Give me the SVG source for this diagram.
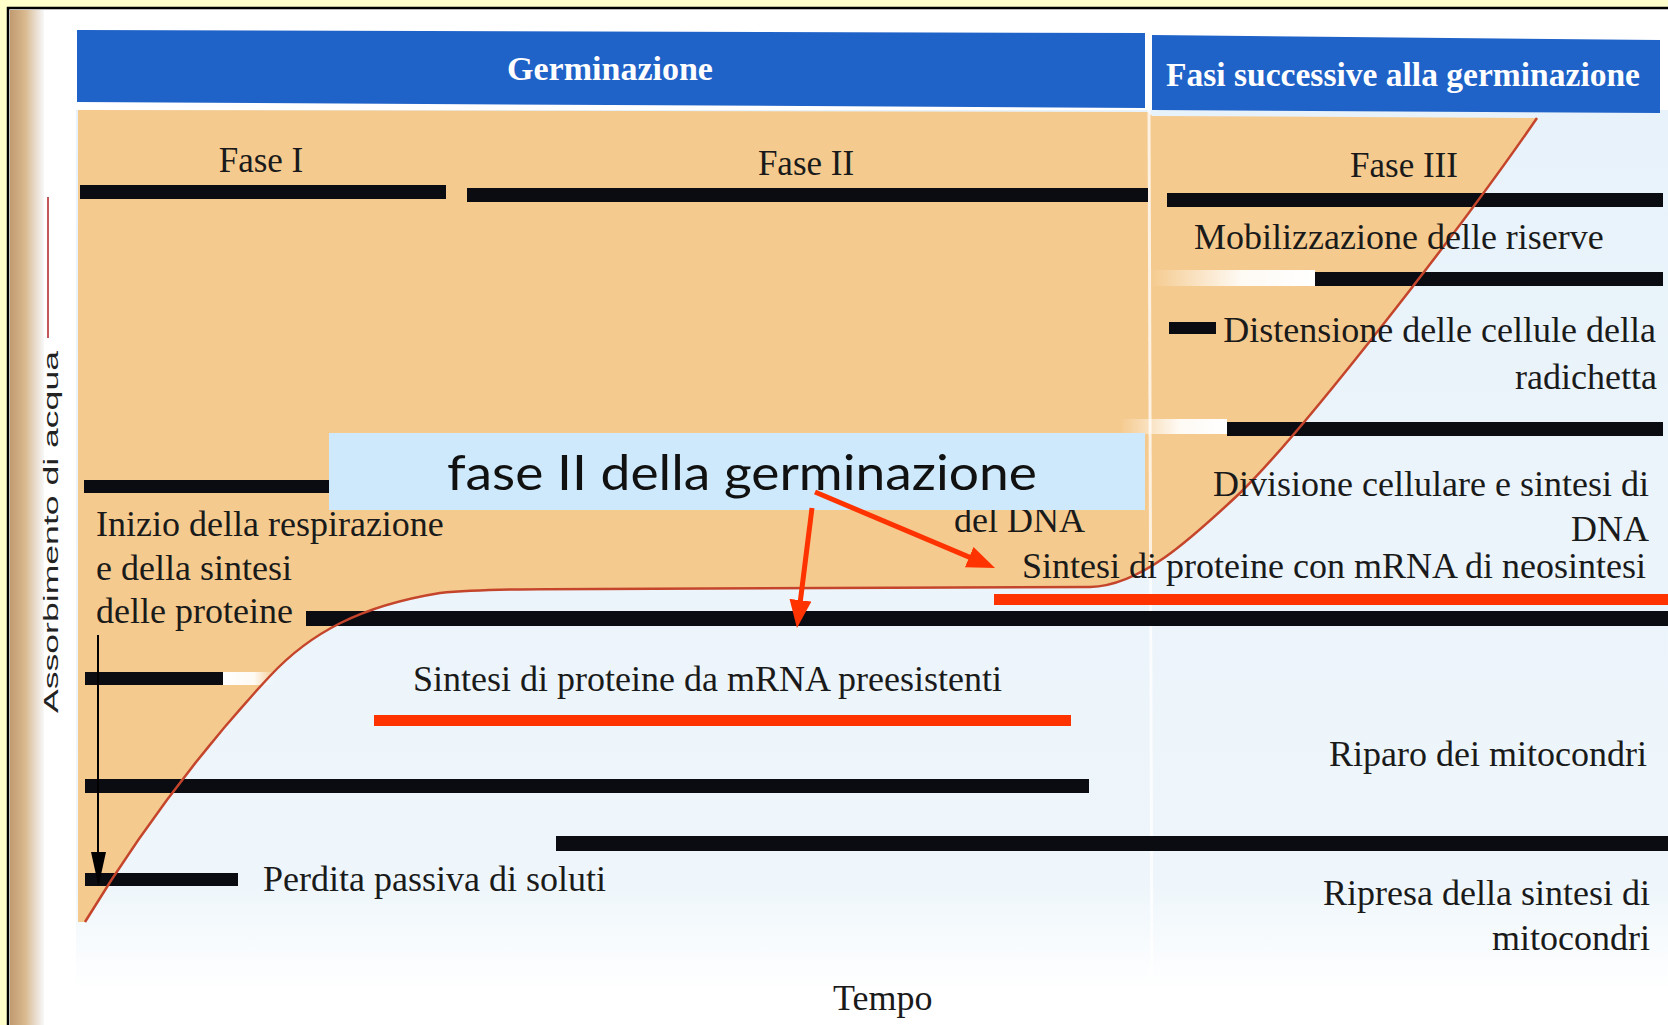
<svg xmlns="http://www.w3.org/2000/svg" width="1668" height="1025" viewBox="0 0 1668 1025">
<defs>
<style>
.t{font-family:"Liberation Serif","Times New Roman",serif;font-size:36px;fill:#1a1a1a}
.f{font-family:"Liberation Serif","Times New Roman",serif;font-size:35px;fill:#1a1a1a;text-anchor:middle}
.e{text-anchor:end}
.h{font-family:"Liberation Serif","Times New Roman",serif;font-weight:bold;fill:#ffffff;text-anchor:middle}
.bar{fill:#0b0b12}
.red{fill:#ff3300}
.arr{stroke:#ff3300;stroke-width:5;fill:none}
.hdr{fill:#1f62c8}
</style>
<linearGradient id="bg" x1="0" y1="0" x2="0" y2="1">
<stop offset="0" stop-color="#e8f2fa"/>
<stop offset="0.88" stop-color="#eef6fb"/>
<stop offset="1" stop-color="#ffffff"/>
</linearGradient>
<linearGradient id="edge" x1="0" y1="0" x2="1" y2="0">
<stop offset="0" stop-color="#c19a70"/>
<stop offset="0.45" stop-color="#d9b98e"/>
<stop offset="0.7" stop-color="#e6d6c2"/>
<stop offset="1" stop-color="#f7f8f9"/>
</linearGradient>
<linearGradient id="fadeR" x1="0" y1="0" x2="1" y2="0">
<stop offset="0" stop-color="#ffffff" stop-opacity="0"/>
<stop offset="0.55" stop-color="#ffffff" stop-opacity="0.9"/>
<stop offset="1" stop-color="#ffffff" stop-opacity="1"/>
</linearGradient>
<linearGradient id="fadeL" x1="0" y1="0" x2="1" y2="0">
<stop offset="0" stop-color="#ffffff" stop-opacity="1"/>
<stop offset="0.6" stop-color="#ffffff" stop-opacity="0.9"/>
<stop offset="1" stop-color="#ffffff" stop-opacity="0"/>
</linearGradient>
<marker id="ah" markerUnits="userSpaceOnUse" markerWidth="30" markerHeight="24" refX="18" refY="11" orient="auto">
<path d="M0,0 L28,11 L0,22 Z" fill="#ff3300"/>
</marker>
</defs>

<!-- page background -->
<rect width="1668" height="1025" fill="#ffffcc"/>
<rect x="9" y="9" width="1659" height="1016" fill="#ffffff"/>
<rect x="10" y="10" width="34" height="1015" fill="url(#edge)"/>
<rect x="76" y="110" width="1592" height="880" fill="url(#bg)"/>
<path d="M8,1025 V8 H1668" stroke="#000" stroke-width="2.5" fill="none"/>

<!-- tan area above curve -->
<path d="M78,110 L1148,112 L1152,116 L1544,118 L1537,118 C1460,230 1300,435 1240,493 C1190,540 1140,586 1090,587 L600,589 C540,589 480,589 440,593 C360,606 310,633 270,676 C215,735 150,815 85,922 L78,922 Z" fill="#f5ca8e"/>

<!-- header -->
<g id="header">
<polygon class="hdr" points="77,30 1145,33 1145,108 77,102"/>
<polygon class="hdr" points="1152,35 1660,40 1660,113 1152,110"/>
<text class="h" x="610" y="80" font-size="34">Germinazione</text>
<text class="h" x="1403" y="86" font-size="33.5" textLength="474" lengthAdjust="spacingAndGlyphs">Fasi successive alla germinazione</text>
</g>

<!-- divider -->
<line x1="1149" y1="110" x2="1152" y2="1000" stroke="#ffffff" stroke-width="3" opacity="0.75"/>

<!-- white smudges -->
<rect x="1150" y="270" width="165" height="16" fill="url(#fadeR)"/>
<rect x="1120" y="419" width="107" height="15" fill="url(#fadeR)"/>
<rect x="223" y="672" width="52" height="13" fill="url(#fadeL)"/>

<!-- phases -->
<g id="fase1">
<rect class="bar" x="80" y="185" width="366" height="14"/>
<text class="f" x="261" y="172">Fase I</text>
</g>
<g id="fase2">
<rect class="bar" x="467" y="188" width="681" height="14"/>
<text class="f" x="806" y="175">Fase II</text>
</g>
<g id="fase3">
<rect class="bar" x="1167" y="193" width="496" height="14"/>
<text class="f" x="1404" y="177">Fase III</text>
</g>

<!-- activity bars -->
<g id="mobilizzazione">
<rect class="bar" x="1315" y="272" width="348" height="14"/>
</g>
<g id="distensione">
<rect class="bar" x="1169" y="322" width="47" height="12"/>
</g>
<g id="divisione">
<rect class="bar" x="1227" y="422" width="436" height="14"/>
</g>
<g id="inizio">
<rect class="bar" x="84" y="480" width="260" height="13"/>
</g>
<g id="sintesi-preesistenti-bar">
<rect class="bar" x="306" y="611" width="1362" height="15"/>
</g>
<g id="bar-short">
<rect class="bar" x="85" y="672" width="138" height="13"/>
</g>
<g id="riparo">
<rect class="bar" x="85" y="779" width="1004" height="14"/>
</g>
<g id="ripresa">
<rect class="bar" x="556" y="836" width="1112" height="15"/>
</g>
<g id="perdita">
<rect class="bar" x="85" y="873" width="153" height="13"/>
</g>

<!-- water absorption curve -->
<path d="M85,922 C150,815 215,735 270,676 C310,633 360,606 440,593 C480,589 540,589 600,589 L1090,587 C1140,586 1190,540 1240,493 C1300,435 1460,230 1537,118" fill="none" stroke="#c4452b" stroke-width="2.5"/>

<!-- red highlight bars -->
<rect class="red" x="994" y="594" width="674" height="11"/>
<rect class="red" x="374" y="715" width="697" height="11"/>

<!-- labels -->
<text class="t" x="1194" y="249" font-size="35.6">Mobilizzazione delle riserve</text>
<text class="t e" x="1656" y="342">Distensione delle cellule della</text>
<text class="t e" x="1657" y="389">radichetta</text>
<text class="t e" x="1649" y="496">Divisione cellulare e sintesi di</text>
<text class="t e" x="1649" y="541">DNA</text>
<text class="t" x="954" y="532">del DNA</text>
<text class="t" x="1022" y="578" font-size="36.6">Sintesi di proteine con mRNA di neosintesi</text>
<text class="t" x="96" y="536">Inizio della respirazione</text>
<text class="t" x="96" y="580">e della sintesi</text>
<text class="t" x="96" y="623">delle proteine</text>
<text class="t" x="413" y="691" font-size="36.5">Sintesi di proteine da mRNA preesistenti</text>
<text class="t e" x="1647" y="766">Riparo dei mitocondri</text>
<text class="t" x="263" y="891">Perdita passiva di soluti</text>
<text class="t e" x="1650" y="905">Ripresa della sintesi di</text>
<text class="t e" x="1650" y="950">mitocondri</text>
<text class="t" x="833" y="1010" font-size="34">Tempo</text>

<!-- y axis label -->
<g id="yaxis">
<line x1="48" y1="197" x2="48" y2="338" stroke="#c2585a" stroke-width="2"/>
<text transform="translate(58,713) rotate(-90)" font-family="'Liberation Sans',Arial,sans-serif" font-size="21" fill="#222" textLength="362" lengthAdjust="spacingAndGlyphs">Assorbimento di acqua</text>
</g>

<!-- callout -->
<g id="callout">
<rect x="329" y="433" width="816" height="77" fill="#cde9fb"/>
<text x="447" y="490" font-family="Lato,'Liberation Sans',sans-serif" font-size="48" fill="#111" textLength="590" lengthAdjust="spacingAndGlyphs">fase II della germinazione</text>
</g>

<!-- connectors -->
<g id="connectors">
<line x1="98" y1="635" x2="98" y2="856" stroke="#000" stroke-width="2"/>
<polygon points="91,852 106,852 98.5,886" fill="#000"/>
<line class="arr" x1="815" y1="492" x2="985.8" y2="564.1" marker-end="url(#ah)"/>
<line class="arr" x1="812" y1="508" x2="798.2" y2="618.1" marker-end="url(#ah)"/>
</g>
</svg>
